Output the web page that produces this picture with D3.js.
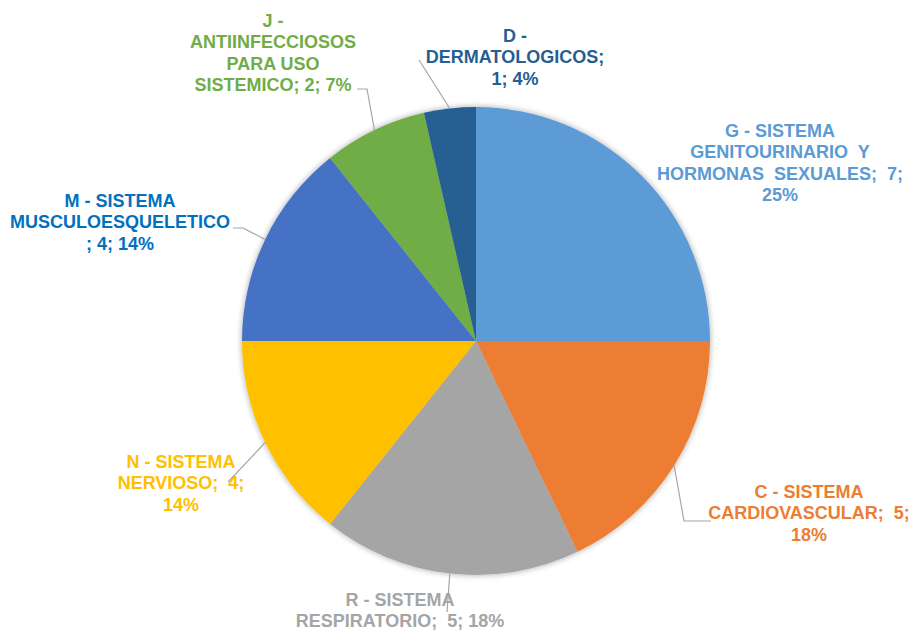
<!DOCTYPE html>
<html>
<head>
<meta charset="utf-8">
<script src="https://cdn.jsdelivr.net/npm/d3@7"></script>
<style>
  body { margin: 0; background: #fff; }
  text { font-family: "Liberation Sans", Arial, sans-serif; font-weight: bold; }
</style>
</head>
<body>
<svg id="chart" width="914" height="634"></svg>
<script>
// data
var codes = ["G", "C", "R", "N", "M", "J", "D"];
var values = [7, 5, 5, 4, 4, 2, 1];
var labelLines = [
  ["G - SISTEMA", "GENITOURINARIO  Y", "HORMONAS  SEXUALES;  7;", "25%"],
  ["C - SISTEMA", "CARDIOVASCULAR;  5;", "18%"],
  ["R - SISTEMA", "RESPIRATORIO;  5; 18%"],
  ["N - SISTEMA", "NERVIOSO;  4;", "14%"],
  ["M - SISTEMA", "MUSCULOESQUELETICO", "; 4; 14%"],
  ["J -", "ANTIINFECCIOSOS", "PARA USO", "SISTEMICO; 2; 7%"],
  ["D -", "DERMATOLOGICOS;", "1; 4%"]
];
var colors = ["#5B9BD5", "#ED7D31", "#A5A5A5", "#FFC000", "#4472C4", "#70AD47", "#255E91"];
var textColors = ["#5B9BD5", "#ED7D31", "#A5A5A5", "#FFC000", "#0070C0", "#70AD47", "#255E91"];

// label layout: center x, first baseline, leader end points (null = no leader)
var labelLayout = [
  {x: 780, y: 137, leader: null},
  {x: 809, y: 498, leader: [[684, 521], [711, 521]]},
  {x: 400, y: 606, leader: [[447, 612]]},
  {x: 181, y: 468, leader: [[228, 482]]},
  {x: 120, y: 207, leader: [[243, 228], [233, 228]]},
  {x: 273, y: 27, leader: [[367, 89], [357, 89]]},
  {x: 515, y: 42, leader: [[419, 60]]}
];

var svg = d3.select("svg#chart");
var cx = 476, cy = 341, radius = 234;
var lineH = 21.3;

var defs = svg.append("defs");
var f = defs.append("filter").attr("id", "shadow")
  .attr("x", "-10%").attr("y", "-10%").attr("width", "120%").attr("height", "120%");
f.append("feGaussianBlur").attr("in", "SourceAlpha").attr("stdDeviation", 3);
f.append("feComponentTransfer").append("feFuncA").attr("type", "linear").attr("slope", 0.35);
var m = f.append("feMerge");
m.append("feMergeNode");
m.append("feMergeNode").attr("in", "SourceGraphic");

var pie = d3.pie().sort(null).value(d => d);
var arcs = pie(values);
var arc = d3.arc().innerRadius(0).outerRadius(radius);

var g = svg.append("g").attr("transform", `translate(${cx},${cy})`);

g.append("g")
  .attr("filter", "url(#shadow)")
  .selectAll("path")
  .data(arcs)
  .enter().append("path")
  .attr("d", arc)
  .attr("fill", (d, i) => colors[i]);

// leader lines
arcs.forEach(function(d, i){
  var lay = labelLayout[i];
  if(!lay.leader) return;
  var a = (d.startAngle + d.endAngle) / 2;
  var pts = [[cx + radius * Math.sin(a), cy - radius * Math.cos(a)]].concat(lay.leader);
  svg.append("path")
    .attr("d", d3.line()(pts))
    .attr("fill", "none")
    .attr("stroke", "#A6A6A6")
    .attr("stroke-width", 1.2);
});

// labels
labelLines.forEach(function(lines, i){
  var lay = labelLayout[i];
  var t = svg.append("text")
    .attr("text-anchor", "middle")
    .attr("font-size", "18px")
    .attr("fill", textColors[i])
    .style("white-space", "pre");
  lines.forEach(function(s, j){
    t.append("tspan")
      .attr("x", lay.x)
      .attr("y", lay.y + j * lineH)
      .text(s);
  });
});
</script>
</body>
</html>
